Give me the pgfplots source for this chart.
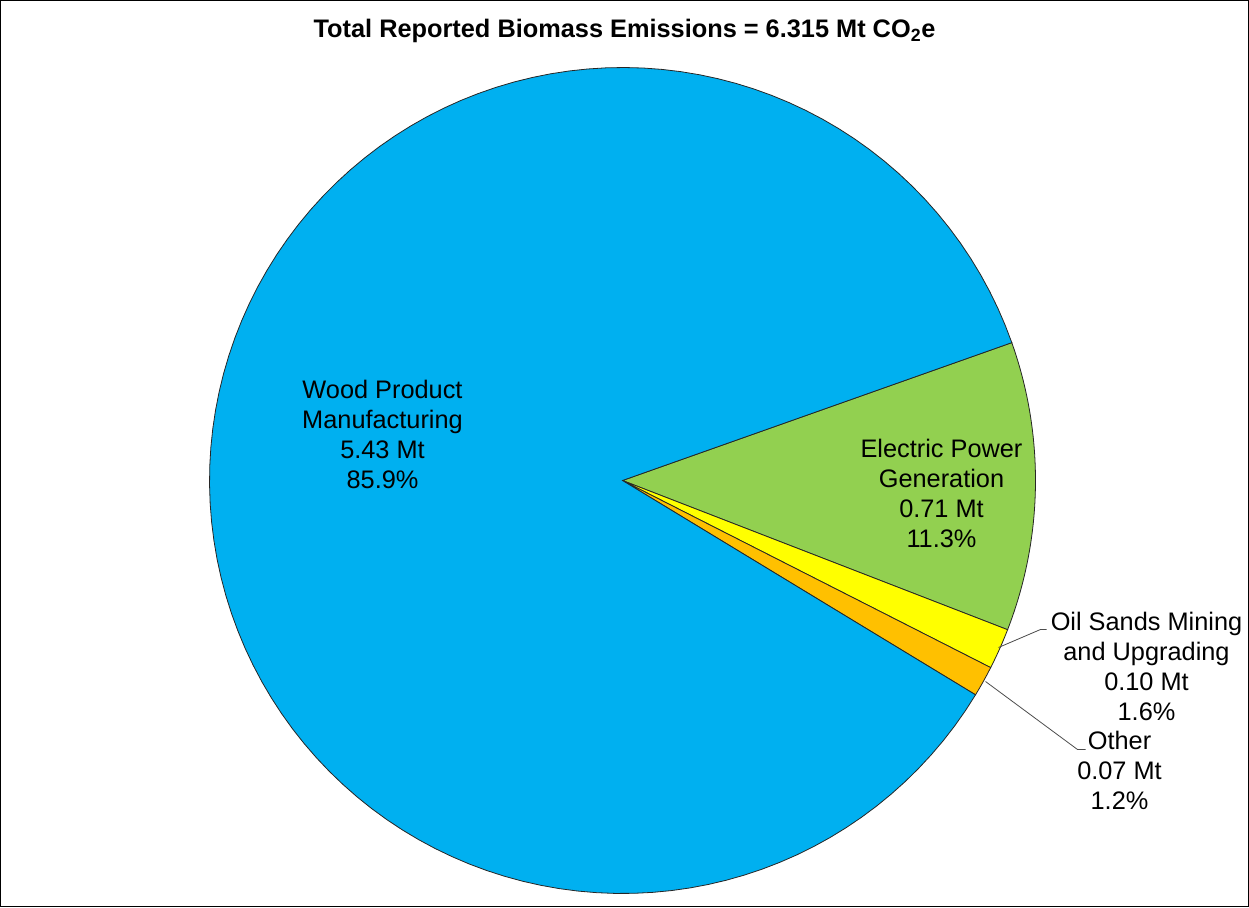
\documentclass[border=0pt]{standalone}
\usepackage{fontspec}
\setmainfont{Liberation Sans}
\usepackage{pgfplots}
\pgfplotsset{compat=1.18}
\usepackage{pgfplotstable}

\definecolor{slice0}{HTML}{92D050}
\definecolor{slice1}{HTML}{FFFF00}
\definecolor{slice2}{HTML}{FFC000}
\definecolor{slice3}{HTML}{00B0F0}

% share of each slice in percent, clockwise from the start angle
\pgfplotstableread{
idx name   mt    pct
0   Elec   0.71  11.3
1   Oil    0.10  1.6
2   Other  0.07  1.2
3   Wood   5.43  85.9
}\piedata

\def\startang{19.5}
\def\R{413}

\begin{document}
\begin{tikzpicture}
\begin{axis}[
    x=0.75pt, y=0.75pt,
    xmin=-622, xmax=626,
    ymin=-426, ymax=480,
    xtick=\empty, ytick=\empty,
    axis line style={black, line width=0.75pt},
    clip=false,
]
\def\cum{0}
\pgfplotsinvokeforeach{0,1,2,3}{
    \pgfplotstablegetelem{#1}{pct}\of\piedata
    \pgfmathsetmacro\aEnd{\startang-3.6*\cum}
    \pgfmathsetmacro\aStart{\startang-3.6*(\cum+\pgfplotsretval)}
    \pgfmathsetmacro\cum{\cum+\pgfplotsretval}
    \global\let\cum\cum
    \addplot[fill=slice#1, draw=black!85, line width=0.6pt,
        domain=\aStart:\aEnd, samples=120]
        ({\R*cos(x)},{\R*sin(x)}) -- (axis cs:0,0) -- cycle;
}

\tikzset{lbl/.style={align=center, font=\fontsize{19}{22.5}\selectfont}}
\node[lbl] at (axis cs:-240,46) {Wood Product\\Manufacturing\\5.43 Mt\\85.9\%};
\node[lbl] at (axis cs:319,-13) {Electric Power\\Generation\\0.71 Mt\\11.3\%};
\node[lbl] at (axis cs:524,-186) {Oil Sands Mining\\and Upgrading\\0.10 Mt\\1.6\%};
\node[lbl] at (axis cs:497,-290) {Other\\0.07 Mt\\1.2\%};

\draw[black!70, line width=0.6pt] (axis cs:376,-167) -- (axis cs:418,-149) -- (axis cs:424,-149);
\draw[black!70, line width=0.6pt] (axis cs:363,-201) -- (axis cs:455,-269) -- (axis cs:463,-269);

\node[font=\fontsize{19}{22}\selectfont\bfseries] at (axis cs:2,450)
    {Total Reported Biomass Emissions = 6.315 Mt CO\textsubscript{2}e};
\end{axis}
\end{tikzpicture}
\end{document}
